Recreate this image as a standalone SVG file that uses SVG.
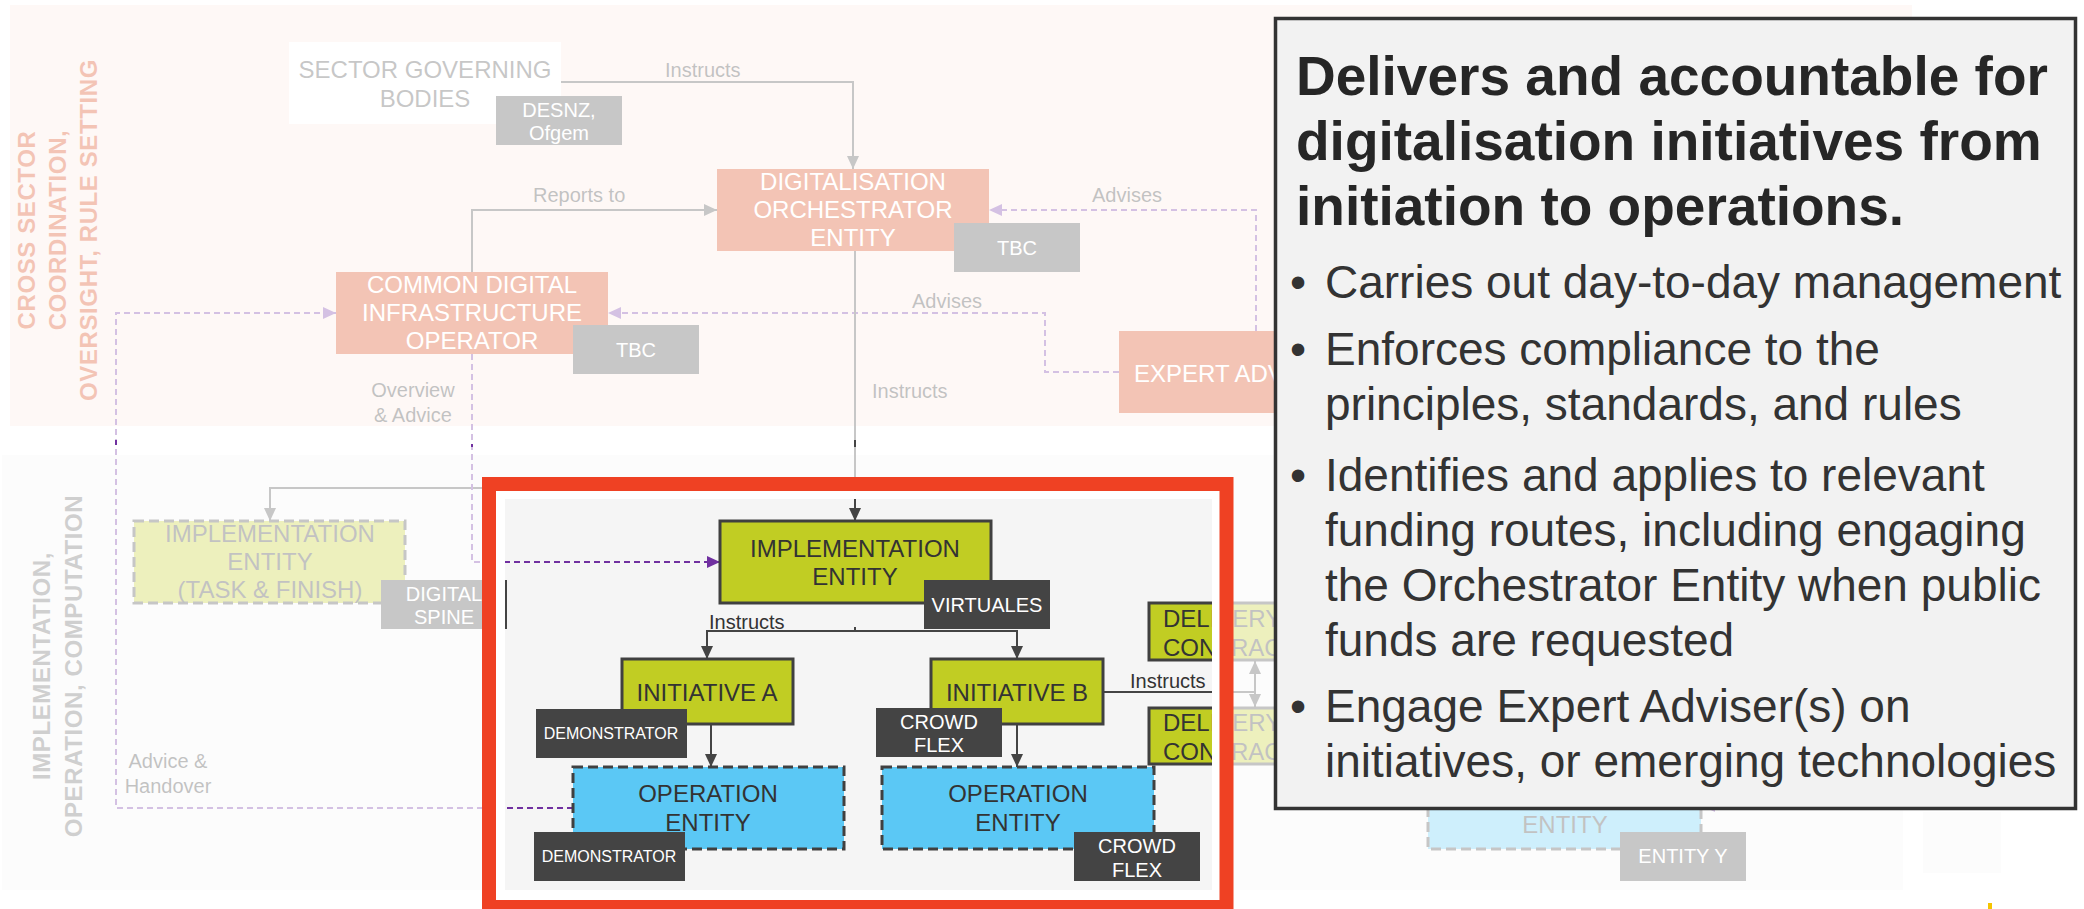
<svg xmlns="http://www.w3.org/2000/svg" width="2084" height="909" viewBox="0 0 2084 909">
<defs>
<style>
text{font-family:"Liberation Sans",Arial,Helvetica,sans-serif}
.vt{font-size:24px;font-weight:bold;letter-spacing:0.6px;text-anchor:middle}
.vs{fill:#D83B07}
.vg{fill:#606060}
.n24{font-size:24px;text-anchor:middle}
.n20{font-size:20px;text-anchor:middle}
.n16{font-size:16px;text-anchor:middle}
.lbl{font-size:20px;fill:#333}
.w{fill:#fff}
.dk{fill:#333}
.g4{fill:#444}
.salmon{fill:#D83B07}
.tag{fill:#444}
.green{fill:#C1CD23;stroke:#404040;stroke-width:3}
.green-d{fill:#C1CD23;stroke:#404040;stroke-width:3;stroke-dasharray:10 5}
.blue-d{fill:#5BC8F5;stroke:#404040;stroke-width:3;stroke-dasharray:10 5}
.ln{fill:none;stroke:#444;stroke-width:2}
.ln-d{fill:none;stroke:#7030A0;stroke-width:2;stroke-dasharray:6 4}
.ah{marker-end:url(#aG)}
.ap{marker-end:url(#aP)}
.cb{font-size:55px;font-weight:bold;fill:#262626}
.cl{font-size:46px;fill:#333}
</style>
<marker id="aG" viewBox="0 0 13 12" refX="13" refY="6" markerWidth="13" markerHeight="12" markerUnits="userSpaceOnUse" orient="auto-start-reverse"><path d="M0,0L13,6L0,12Z" fill="#444"/></marker>
<marker id="aP" viewBox="0 0 13 12" refX="13" refY="6" markerWidth="13" markerHeight="12" markerUnits="userSpaceOnUse" orient="auto-start-reverse"><path d="M0,0L13,6L0,12Z" fill="#7030A0"/></marker>
</defs>
<rect width="2084" height="909" fill="#fff"/>
<g id="bands">
<rect x="10" y="5" width="1902" height="421" fill="#FCE8E1"/>
<rect x="2" y="455" width="1901" height="435" fill="#F5F5F5"/>
<rect x="1923" y="812" width="78" height="61" fill="#F5F5F5"/>
<g class="vt vs">
<text transform="translate(35,230) rotate(-90)">CROSS SECTOR</text>
<text transform="translate(66,230) rotate(-90)">COORDINATION,</text>
<text transform="translate(97,230) rotate(-90)">OVERSIGHT, RULE SETTING</text>
</g>
<g class="vt vg">
<text transform="translate(50,666) rotate(-90)">IMPLEMENTATION,</text>
<text transform="translate(82,666) rotate(-90)">OPERATION, COMPUTATION</text>
</g>
</g>
<g id="connectors">
<path class="ln ah" d="M561,82H853V169"/>
<text class="lbl" x="665" y="77">Instructs</text>
<path class="ln ah" d="M472,272V210H717"/>
<text class="lbl" x="533" y="202">Reports to</text>
<path class="ln-d ap" d="M1256,331V210H989"/>
<text class="lbl" x="1092" y="202">Advises</text>
<path class="ln-d ap" d="M1119,372H1045V313H608"/>
<text class="lbl" x="912" y="308">Advises</text>
<path class="ln ah" d="M855,251V521"/>
<path class="ln ah" d="M855,488H270V521"/>
<text class="lbl" x="872" y="398">Instructs</text>
<path class="ln-d ap" d="M472,354V562H720"/>
<text class="lbl" x="413" y="397" text-anchor="middle">Overview</text>
<text class="lbl" x="413" y="422" text-anchor="middle">&amp; Advice</text>
<path class="ln-d ap" d="M573,808H116V313H336"/>
<text class="lbl" x="168" y="768" text-anchor="middle">Advice &amp;</text>
<text class="lbl" x="168" y="793" text-anchor="middle">Handover</text>
<path class="ln ah" d="M855,627V631H707V659"/>
<path class="ln ah" d="M855,631H1017V659"/>
<text class="lbl" x="709" y="629">Instructs</text>
<path class="ln ah" d="M711,724V767"/>
<path class="ln ah" d="M1017,724V767"/>
<path class="ln" d="M1103,692H1255"/>
<text class="lbl" x="1130" y="688">Instructs</text>
<path class="ln" d="M1255,661V707" marker-start="url(#aG)" marker-end="url(#aG)"/>
<path class="ln-d ap" d="M1760,806H1702"/>
</g>
<g id="sector-governing-bodies">
<rect x="289" y="42" width="272" height="82" fill="#fff"/>
<text class="n24 g4" x="425" y="78">SECTOR GOVERNING</text>
<text class="n24 g4" x="425" y="107">BODIES</text>
<rect class="tag" x="496" y="96" width="126" height="49"/>
<text class="n20 w" x="559" y="117">DESNZ,</text>
<text class="n20 w" x="559" y="140">Ofgem</text>
</g>
<g id="digitalisation-orchestrator-entity">
<rect class="salmon" x="717" y="169" width="272" height="82"/>
<text class="n24 w" x="853" y="190">DIGITALISATION</text>
<text class="n24 w" x="853" y="218">ORCHESTRATOR</text>
<text class="n24 w" x="853" y="246">ENTITY</text>
<rect class="tag" x="954" y="223" width="126" height="49"/>
<text class="n20 w" x="1017" y="255">TBC</text>
</g>
<g id="common-digital-infrastructure-operator">
<rect class="salmon" x="336" y="272" width="272" height="82"/>
<text class="n24 w" x="472" y="293">COMMON DIGITAL</text>
<text class="n24 w" x="472" y="321">INFRASTRUCTURE</text>
<text class="n24 w" x="472" y="349">OPERATOR</text>
<rect class="tag" x="573" y="325" width="126" height="49"/>
<text class="n20 w" x="636" y="357">TBC</text>
</g>
<g id="expert-adviser">
<rect class="salmon" x="1119" y="331" width="272" height="82"/>
<text class="w" font-size="24" x="1134" y="382">EXPERT ADV</text>
</g>
<g id="implementation-entity-task-finish">
<rect class="green-d" x="134" y="521" width="271" height="82"/>
<text class="n24 dk" x="270" y="542">IMPLEMENTATION</text>
<text class="n24 dk" x="270" y="570">ENTITY</text>
<text class="n24 dk" x="270" y="598">(TASK &amp; FINISH)</text>
<rect class="tag" x="381" y="580" width="126" height="49"/>
<text class="n20 w" x="444" y="601">DIGITAL</text>
<text class="n20 w" x="444" y="624">SPINE</text>
</g>
<g id="implementation-entity">
<rect class="green" x="720" y="521" width="271" height="82"/>
<text class="n24 dk" x="855" y="557">IMPLEMENTATION</text>
<text class="n24 dk" x="855" y="585">ENTITY</text>
<rect class="tag" x="924" y="580" width="126" height="49"/>
<text class="n20 w" x="987" y="612">VIRTUALES</text>
</g>
<g id="initiative-a">
<rect class="green" x="622" y="659" width="171" height="65"/>
<text class="n24 dk" x="707" y="701">INITIATIVE A</text>
<rect class="tag" x="536" y="709" width="151" height="49"/>
<text class="n16 w" x="611" y="739">DEMONSTRATOR</text>
</g>
<g id="operation-entity-a">
<rect class="blue-d" x="573" y="767" width="271" height="82"/>
<text class="n24 dk" x="708" y="802">OPERATION</text>
<text class="n24 dk" x="708" y="831">ENTITY</text>
<rect class="tag" x="534" y="832" width="151" height="49"/>
<text class="n16 w" x="609" y="862">DEMONSTRATOR</text>
</g>
<g id="initiative-b">
<rect class="green" x="931" y="659" width="172" height="65"/>
<text class="n24 dk" x="1017" y="701">INITIATIVE B</text>
<rect class="tag" x="876" y="708" width="126" height="49"/>
<text class="n20 w" x="939" y="729">CROWD</text>
<text class="n20 w" x="939" y="752">FLEX</text>
</g>
<g id="operation-entity-b">
<rect class="blue-d" x="882" y="767" width="272" height="82"/>
<text class="n24 dk" x="1018" y="802">OPERATION</text>
<text class="n24 dk" x="1018" y="831">ENTITY</text>
<rect class="tag" x="1074" y="832" width="126" height="49"/>
<text class="n20 w" x="1137" y="853">CROWD</text>
<text class="n20 w" x="1137" y="877">FLEX</text>
</g>
<g id="delivery-contract-1">
<rect class="green" x="1149" y="603" width="250" height="57"/>
<text class="dk" font-size="24" x="1163" y="627">DELIVERY</text>
<text class="dk" font-size="24" x="1163" y="656">CONTRAC</text>
</g>
<g id="delivery-contract-2">
<rect class="green" x="1149" y="708" width="250" height="56"/>
<text class="dk" font-size="24" x="1163" y="731">DELIVERY</text>
<text class="dk" font-size="24" x="1163" y="760">CONTRAC</text>
</g>
<g id="operation-entity-y">
<rect class="blue-d" x="1428" y="767" width="273" height="82"/>
<text class="n24 dk" x="1565" y="833">ENTITY</text>
<rect class="tag" x="1620" y="832" width="126" height="49"/>
<text class="n20 w" x="1683" y="863">ENTITY Y</text>
</g>
<path id="fade" d="M0,0H2084V440H0Z M0,447H2084V909H0Z M505,499V891H1212V499Z" fill="#fff" fill-opacity="0.7" fill-rule="evenodd"/>
<g id="highlight">
<path d="M496,491H1220V900H496Z M505,499V891H1212V499Z" fill="#fff" fill-rule="evenodd"/>
<rect x="489" y="484" width="737.5" height="423" fill="none" stroke="#EF4123" stroke-width="14"/>
</g>
<g id="callout">
<rect x="1275.5" y="18.5" width="800" height="790" fill="#F2F2F2" stroke="#333" stroke-width="3.5"/>
<text class="cb" x="1296" y="95">Delivers and accountable for</text>
<text class="cb" x="1296" y="160">digitalisation initiatives from</text>
<text class="cb" x="1296" y="225">initiation to operations.</text>
<g class="cl">
<text x="1290" y="298">•</text><text x="1325" y="298">Carries out day-to-day management</text>
<text x="1290" y="365">•</text><text x="1325" y="365">Enforces compliance to the</text>
<text x="1325" y="420">principles, standards, and rules</text>
<text x="1290" y="491">•</text><text x="1325" y="491">Identifies and applies to relevant</text>
<text x="1325" y="546">funding routes, including engaging</text>
<text x="1325" y="601">the Orchestrator Entity when public</text>
<text x="1325" y="656">funds are requested</text>
<text x="1290" y="722">•</text><text x="1325" y="722">Engage Expert Adviser(s) on</text>
<text x="1325" y="777">initiatives, or emerging technologies</text>
</g>
</g>
<rect x="1988" y="903" width="4" height="6" fill="#F5C400"/>
</svg>
